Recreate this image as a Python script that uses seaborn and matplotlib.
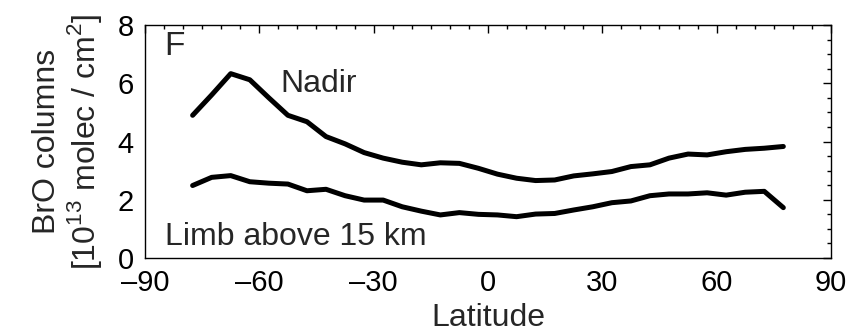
import numpy as np
import pandas as pd
import matplotlib
matplotlib.use("Agg")
import matplotlib.pyplot as plt
import seaborn as sns
from matplotlib.ticker import MultipleLocator, FuncFormatter

# latitude grid (deg)
lat = [-77.5, -72.5, -67.5, -62.5, -57.5, -52.5, -47.5, -42.5, -37.5, -32.5,
       -27.5, -22.5, -17.5, -12.5, -7.5, -2.5, 2.5, 7.5, 12.5, 17.5,
       22.5, 27.5, 32.5, 37.5, 42.5, 47.5, 52.5, 57.5, 62.5, 67.5,
       72.5, 77.5]

nadir = [4.90, 5.60, 6.33, 6.12, 5.50, 4.90, 4.68, 4.17, 3.92, 3.62,
         3.43, 3.29, 3.20, 3.27, 3.25, 3.08, 2.88, 2.74, 2.66, 2.68,
         2.82, 2.89, 2.97, 3.14, 3.20, 3.43, 3.57, 3.54, 3.65, 3.73,
         3.77, 3.83]

limb = [2.49, 2.77, 2.83, 2.62, 2.57, 2.54, 2.31, 2.36, 2.14, 1.99,
        1.99, 1.76, 1.61, 1.48, 1.56, 1.50, 1.48, 1.42, 1.51, 1.53,
        1.65, 1.76, 1.90, 1.96, 2.14, 2.20, 2.20, 2.24, 2.16, 2.26,
        2.29, 1.73]

df = pd.DataFrame({"lat": lat * 2,
                   "bro": nadir + limb,
                   "kind": ["Nadir"] * len(lat) + ["Limb"] * len(lat)})

sns.set_style("white")
plt.rcParams['font.family'] = ['Liberation Sans', 'DejaVu Sans']
plt.rcParams['mathtext.fontset'] = 'custom'
plt.rcParams['mathtext.rm'] = 'Liberation Sans'

fig = plt.figure(figsize=(8.62, 3.36), dpi=100)
ax = fig.add_axes([0.1682, 0.232, 0.7958, 0.6936])

sns.lineplot(data=df, x="lat", y="bro", units="kind", estimator=None,
             color="black", linewidth=3.6, ax=ax, legend=False)

ax.set_xlim(-90, 90)
ax.set_ylim(0, 8)
ax.xaxis.set_major_locator(MultipleLocator(30))
ax.xaxis.set_minor_locator(MultipleLocator(5))
ax.yaxis.set_major_locator(MultipleLocator(2))
ax.yaxis.set_minor_locator(MultipleLocator(0.5))
ax.xaxis.set_major_formatter(
    FuncFormatter(lambda v, p: ("\u2013%d" % abs(v)) if v < 0 else "%d" % v))
ax.tick_params(which="both", direction="in", top=True, right=True,
               labelsize=21, width=1, colors="black")
ax.tick_params(which="major", length=6)
ax.tick_params(which="minor", length=3)
ax.tick_params(axis="y", pad=8)
ax.tick_params(axis="x", pad=8)
for s in ax.spines.values():
    s.set_color("black")
    s.set_linewidth(1)

ax.set_xlabel("Latitude", fontsize=23, labelpad=4)
ax.set_ylabel("BrO columns\n[10$^{13}$ molec / cm$^2$]", fontsize=23,
              linespacing=1.1, labelpad=10)

ax.text(-85, 7.8, "F", fontsize=24, ha="left", va="top")
ax.text(-54.6, 5.98, "Nadir", fontsize=23, ha="left", va="center")
ax.text(-84.8, 0.72, "Limb above 15 km", fontsize=23, ha="left", va="center")

fig.savefig("out.png", dpi=100)
